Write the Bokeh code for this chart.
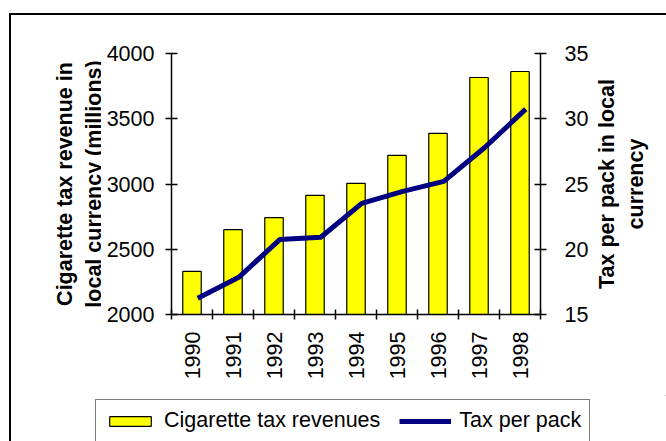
import numpy as np
from bokeh.plotting import figure
from bokeh.layouts import column, row
from bokeh.models import (Range1d, LinearAxis, FixedTicker, Legend, LegendItem, ColumnDataSource)
from bokeh.transform import dodge
from bokeh.embed import file_html
from bokeh.resources import INLINE

years = ["1990", "1991", "1992", "1993", "1994", "1995", "1996", "1997", "1998"]
revenue = [2331, 2650, 2742, 2913, 3005, 3219, 3388, 3816, 3862]
tax_per_pack = [16.25, 17.85, 20.74, 20.92, 23.52, 24.44, 25.2, 27.8, 30.74]
rev_ticks = [2000, 2500, 3000, 3500, 4000]
tax_ticks = [15, 20, 25, 30, 35]

FONT = "Liberation Sans"
FS = "21.5px"
BAR_STYLE = dict(fill_color="#FFFF00", line_color="black", line_width=1.2)
LINE_STYLE = dict(line_color="#000080", line_width=5, line_join="round")

x = np.arange(len(years)) + 0.5
src = ColumnDataSource(dict(x=x, year=years, revenue=revenue, tax=tax_per_pack))


def clean(fig):
    fig.xgrid.visible = False
    fig.ygrid.visible = False
    fig.outline_line_color = None
    fig.background_fill_color = "white"
    fig.border_fill_color = "white"
    fig.frame_align = False


def style_axis(ax):
    ax.axis_line_color = "black"
    ax.axis_line_width = 1.5
    ax.major_tick_line_color = "black"
    ax.major_tick_line_width = 1.5
    ax.minor_tick_line_color = None
    ax.major_label_text_font = FONT
    ax.major_label_text_font_size = FS
    ax.major_label_text_color = "black"
    ax.axis_label_text_font = FONT
    ax.axis_label_text_font_size = FS
    ax.axis_label_text_font_style = "bold"
    ax.axis_label_text_color = "black"


def title_figure(width, border_left, y_range, label, standoff):
    """A narrow strip that only carries a bold, two-line axis title."""
    f = figure(width=width, height=380, output_backend="svg", toolbar_location=None,
               x_range=Range1d(0, 1), y_range=y_range,
               min_border_left=border_left, min_border_right=0, min_border_top=38,
               min_border_bottom=81, x_axis_location=None, y_axis_location=None)
    clean(f)
    ax = LinearAxis(ticker=FixedTicker(ticks=[]), axis_label=label)
    style_axis(ax)
    ax.axis_line_color = None
    ax.major_tick_line_color = None
    ax.major_tick_in = 0
    ax.major_tick_out = 0
    ax.major_label_standoff = 0
    ax.axis_label_standoff = standoff
    f.add_layout(ax, "left")
    return f


# ---- left axis title -------------------------------------------------------
tl = title_figure(90, 89, Range1d(rev_ticks[0], rev_ticks[-1]),
                  "Cigarette tax revenue in\nlocal currency (millions)", -5)

# ---- main chart -------------------------------------------------------------
p = figure(width=490, height=380, output_backend="svg", toolbar_location=None,
           x_range=Range1d(0, len(years)), y_range=Range1d(rev_ticks[0], rev_ticks[-1]),
           min_border_left=70, min_border_right=50, min_border_top=38, min_border_bottom=81,
           x_axis_location=None, y_axis_location=None)
p.extra_y_ranges = {"tax": Range1d(tax_ticks[0], tax_ticks[-1])}
clean(p)

p.vbar(x="x", top="revenue", bottom=rev_ticks[0], width=0.45, source=src, **BAR_STYLE)
p.line(x=dodge("x", 0.14), y="tax", source=src, y_range_name="tax", **LINE_STYLE)

left = LinearAxis(ticker=FixedTicker(ticks=rev_ticks))
style_axis(left)
left.major_tick_in = 6
left.major_tick_out = 6
left.major_label_standoff = 11
p.add_layout(left, "left")

right = LinearAxis(y_range_name="tax", ticker=FixedTicker(ticks=tax_ticks))
style_axis(right)
right.major_tick_in = 6
right.major_tick_out = 6
right.major_label_standoff = 18
p.add_layout(right, "right")

bottom = LinearAxis(ticker=FixedTicker(ticks=list(x), minor_ticks=list(range(len(years) + 1))),
                    major_label_overrides={float(v): y for v, y in zip(x, years)})
style_axis(bottom)
bottom.major_tick_line_color = None
bottom.minor_tick_line_color = "black"
bottom.minor_tick_line_width = 1.5
bottom.minor_tick_in = 5
bottom.minor_tick_out = 5
bottom.major_tick_in = 0
bottom.major_tick_out = 5
bottom.major_label_orientation = np.pi / 2
bottom.major_label_standoff = 12
p.add_layout(bottom, "below")

# ---- right-hand axis title (read from bottom to top) ------------------------
tf = title_figure(75, 62, Range1d(tax_ticks[0], tax_ticks[-1]),
                  "Tax per pack in local\ncurrency", 6)

# ---- legend strip under the chart (its renderers sit outside the visible range)
lf = figure(width=655, height=46, output_backend="svg", toolbar_location=None,
            x_range=Range1d(-100, -99), y_range=Range1d(-100, -99),
            min_border=0, x_axis_location=None, y_axis_location=None)
clean(lf)
lbars = lf.vbar(x="x", top="revenue", width=0.45, source=src, **BAR_STYLE)
lline = lf.line(x="x", y="tax", source=src, **LINE_STYLE)

legend = Legend(items=[LegendItem(label="Cigarette tax revenues", renderers=[lbars]),
                       LegendItem(label="Tax per pack", renderers=[lline])],
                orientation="horizontal", location=(84, -1), margin=0,
                padding=8, spacing=19, glyph_width=52, glyph_height=12, label_height=24,
                label_standoff=8, label_text_font=FONT, label_text_font_size=FS,
                label_text_color="black", border_line_color="black", border_line_width=1.2,
                background_fill_color="white", background_fill_alpha=1)
lf.add_layout(legend, "center")

layout = column(row(tl, p, tf, spacing=0), lf, spacing=0,
                styles={"margin-left": "9px", "margin-top": "13px",
                        "border-left": "2px solid black", "border-top": "2px solid black"})

open("out.html", "w").write(file_html(layout, INLINE))
